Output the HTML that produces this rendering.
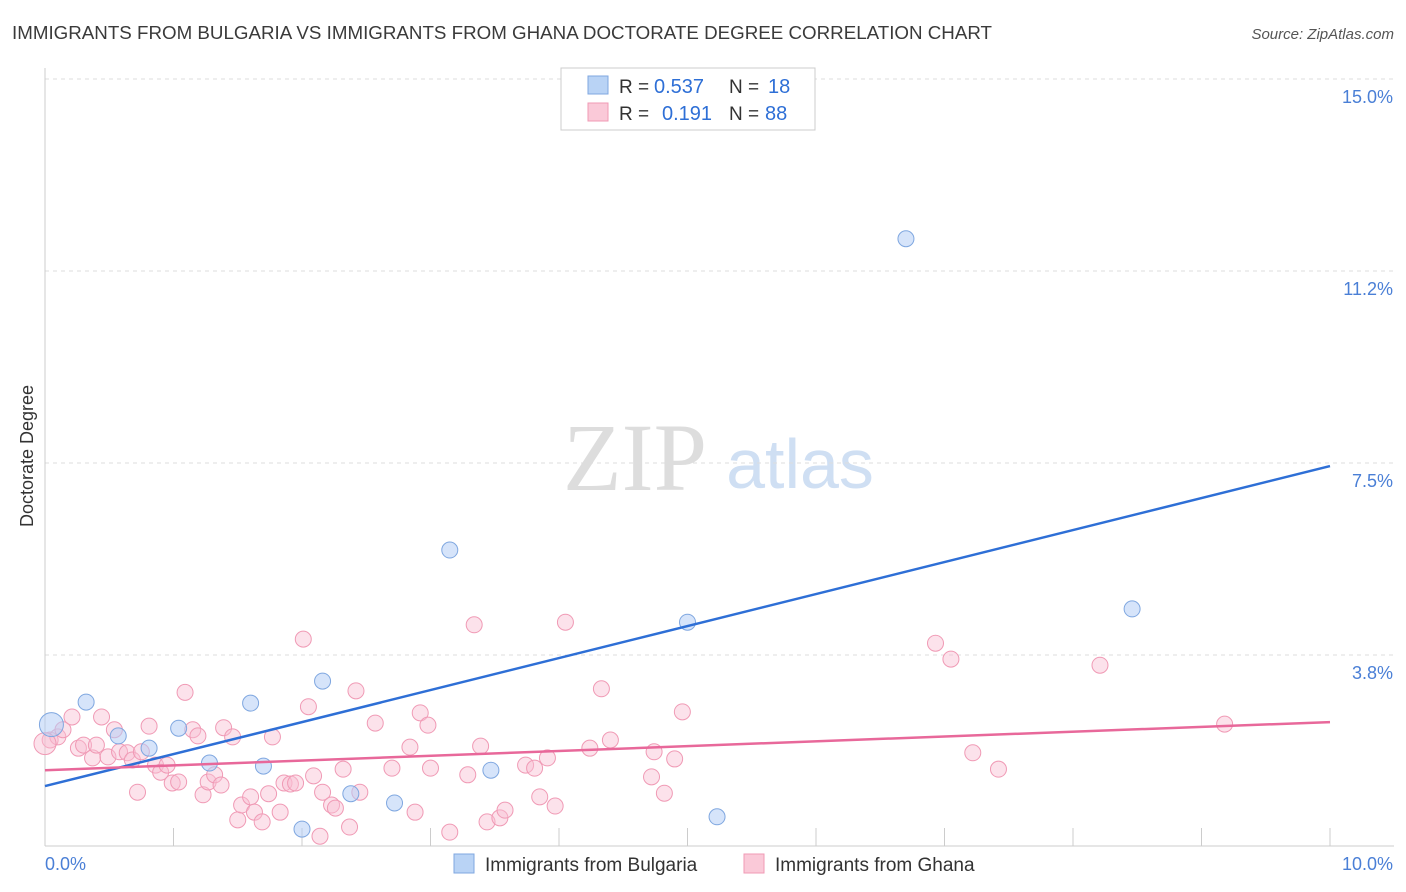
<!DOCTYPE html>
<html><head><meta charset="utf-8"><style>
body{margin:0;background:#fff;font-family:"Liberation Sans",sans-serif;}
svg{display:block}
</style></head><body>
<svg id="chart" width="1406" height="892" xmlns="http://www.w3.org/2000/svg" font-family="Liberation Sans, sans-serif">
<text x="12" y="39" font-size="18" fill="#3a3a3a" textLength="980" lengthAdjust="spacingAndGlyphs">IMMIGRANTS FROM BULGARIA VS IMMIGRANTS FROM GHANA DOCTORATE DEGREE CORRELATION CHART</text>
<text x="1394" y="39" font-size="15" fill="#555" font-style="italic" text-anchor="end">Source: ZipAtlas.com</text>
<text transform="translate(33,456) rotate(-90)" font-size="18" fill="#333" text-anchor="middle">Doctorate Degree</text>
<g>
<text x="635" y="490" font-size="96" fill="#ddd" font-family="Liberation Serif, serif" text-anchor="middle">ZIP</text>
<text x="800" y="488" font-size="70" fill="#cfdff3" text-anchor="middle">atlas</text>
</g>
<g id="grid"></g><g id="ticks"></g><g id="pts"></g><g id="lines"></g>
<g>
<rect x="561" y="68" width="254" height="62" fill="#fff" stroke="#ccc"/>
<rect x="588" y="76" width="20" height="18" fill="#b9d3f5" stroke="#7fa7e0"/>
<rect x="588" y="103" width="20" height="18" fill="#fac9d8" stroke="#f09ab5"/>
<text x="619" y="93" font-size="19" fill="#333">R =</text>
<text x="654" y="93" font-size="20" fill="#2e6fd6">0.537</text>
<text x="729" y="93" font-size="19" fill="#333">N =</text>
<text x="768" y="93" font-size="20" fill="#2e6fd6">18</text>
<text x="619" y="120" font-size="19" fill="#333">R =</text>
<text x="662" y="120" font-size="20" fill="#2e6fd6">0.191</text>
<text x="729" y="120" font-size="19" fill="#333">N =</text>
<text x="765" y="120" font-size="20" fill="#2e6fd6">88</text>
</g>
<g>
<rect x="454" y="854" width="20" height="19" fill="#b9d3f5" stroke="#7fa7e0"/>
<text x="485" y="871" font-size="19" fill="#333">Immigrants from Bulgaria</text>
<rect x="744" y="854" width="20" height="19" fill="#fac9d8" stroke="#f09ab5"/>
<text x="775" y="871" font-size="19" fill="#333">Immigrants from Ghana</text>
</g>
</svg>
<script>
const yTicks=[15.0,11.25,7.5,3.75];
const yTickLabels=["15.0%","11.2%","7.5%","3.8%"];
const xTickLabels=["0.0%","10.0%"];
const bulgariaX=[0.05,0.32,0.57,0.81,1.04,1.28,1.6,1.7,2.16,2.38,2.72,3.15,3.47,5.0,5.23,6.7,8.46,2.0];
const bulgariaY=[2.39,2.83,2.17,1.93,2.32,1.64,2.81,1.58,3.24,1.04,0.86,5.8,1.5,4.39,0.59,11.88,4.65,0.35];
const ghanaX=[0.04,0.1,0.14,0.21,0.26,0.3,0.37,0.4,0.44,0.49,0.54,0.58,0.64,0.68,0.72,0.75,0.81,0.86,0.9,0.95,0.99,1.04,1.09,1.15,1.19,1.23,1.27,1.32,1.37,1.39,1.46,1.5,1.53,1.6,1.63,1.69,1.74,1.77,1.83,1.86,1.91,1.95,2.01,2.05,2.09,2.14,2.16,2.23,2.26,2.32,2.37,2.42,2.45,2.57,2.7,2.84,2.88,2.92,2.98,3.0,3.15,3.29,3.34,3.39,3.44,3.54,3.58,3.74,3.81,3.85,3.91,3.97,4.05,4.24,4.33,4.4,4.72,4.74,4.82,4.9,4.96,6.93,7.05,7.22,7.42,8.21,9.18,0.0];
const ghanaY=[2.09,2.15,2.29,2.54,1.93,1.99,1.74,1.99,2.54,1.76,2.29,1.86,1.84,1.7,1.07,1.86,2.36,1.6,1.46,1.6,1.25,1.27,3.02,2.29,2.17,1.02,1.27,1.41,1.21,2.33,2.15,0.53,0.82,0.98,0.68,0.49,1.04,2.15,0.68,1.25,1.23,1.25,4.06,2.74,1.39,0.21,1.07,0.82,0.76,1.52,0.39,3.05,1.07,2.42,1.54,1.95,0.68,2.62,2.38,1.54,0.29,1.41,4.34,1.97,0.49,0.57,0.72,1.6,1.54,0.98,1.74,0.8,4.39,1.93,3.09,2.09,1.37,1.86,1.05,1.72,2.64,3.98,3.67,1.84,1.52,3.55,2.4,2.02];
const bulgariaLine=[1.19,7.44];
const ghanaLine=[1.5,2.44];
const X0=45,X1=1330,Y0=847,PX=51.2;
const sx=v=>X0+(X1-X0)*v/10, sy=v=>Y0-v*PX;
const NS="http://www.w3.org/2000/svg";
function mk(t,a,p){const e=document.createElementNS(NS,t);for(const k in a)e.setAttribute(k,a[k]);p.appendChild(e);return e;}
const grid=document.getElementById('grid'),ticks=document.getElementById('ticks');
yTicks.forEach((v,i)=>{
 const l=mk('line',{x1:45,x2:1394,y1:sy(v),y2:sy(v),stroke:'#ddd','stroke-dasharray':'4,4'},grid);
 
 
 const t=mk('text',{x:1393,y:sy(v)+24,'font-size':18,fill:'#4a7fd6','text-anchor':'end'},ticks);
 t.textContent=yTickLabels[i];
 
 
});
const ax=mk('line',{x1:45,x2:45,y1:68,y2:846,stroke:'#ccc'},ticks);


const bx=mk('line',{x1:45,x2:1394,y1:846,y2:846,stroke:'#ccc'},ticks);


for(let i=0;i<=10;i++){
 const t=mk('line',{x1:sx(i),x2:sx(i),y1:828,y2:846,stroke:'#ccc'},ticks);
 
 
}
[[0,45,'start'],[10,1393,'end']].forEach(([v,x,a],i)=>{
 const t=mk('text',{x:x,y:870,'font-size':18,fill:'#4a7fd6','text-anchor':a},ticks);
 t.textContent=xTickLabels[i];
 
 
});
const pts=document.getElementById('pts');
ghanaX.forEach((x,i)=>{
 const c=mk('circle',{cx:sx(x),cy:sy(ghanaY[i]),r:i==ghanaX.length-1?11:8,fill:'rgba(248,190,210,0.45)',stroke:'#f09ab5','stroke-width':1},pts);
 
 
});
bulgariaX.forEach((x,i)=>{
 const c=mk('circle',{cx:sx(x),cy:sy(bulgariaY[i]),r:i==0?12:8,fill:'rgba(180,205,245,0.55)',stroke:'#7fa7e0','stroke-width':1},pts);
 
 
});
const lines=document.getElementById('lines');
const lb=mk('line',{x1:sx(0),y1:sy(bulgariaLine[0]),x2:sx(10),y2:sy(bulgariaLine[1]),stroke:'#2e6fd6','stroke-width':2.5},lines);


const lg=mk('line',{x1:sx(0),y1:sy(ghanaLine[0]),x2:sx(10),y2:sy(ghanaLine[1]),stroke:'#e8689a','stroke-width':2.5},lines);


</script>
</body></html>
